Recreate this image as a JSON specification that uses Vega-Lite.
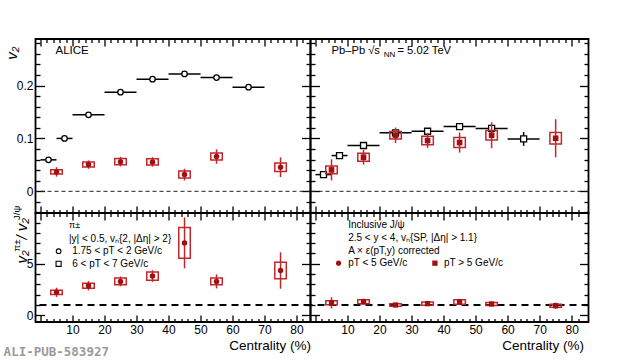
{
  "$schema": "https://vega.github.io/schema/vega-lite/v6.json",
  "background": "white",
  "padding": {"left": 3.5, "top": 36, "right": 0, "bottom": 0},
  "columns": 2,
  "spacing": 0,
  "bounds": "flush",
  "align": "each",
  "title": {"text": "ALI-PUB-583927", "orient": "bottom", "anchor": "start", "font": "DejaVu Sans Mono", "fontSize": 12.5, "fontWeight": "bold", "color": "#9a9a9a", "dy": -10},
  "config": {
    "font": "Liberation Sans",
    "view": {"stroke": "black", "strokeWidth": 1.8},
    "axis": {"domain": false, "grid": false, "tickColor": "black", "tickWidth": 1.3, "labelColor": "black", "labelFont": "Liberation Sans", "labelFontSize": 12, "titleFont": "Liberation Sans", "titleFontSize": 13.5, "titleFontWeight": "normal", "titleColor": "black", "labelOverlap": false, "labelFlush": false},
    "text": {"font": "Liberation Sans", "color": "black"}
  },
  "datasets": {
    "pi_lo": [
      {"c0": 0, "c1": 5, "cent": 2.5, "v": 0.0595},
      {"c0": 5, "c1": 10, "cent": 7.5, "v": 0.100},
      {"c0": 10, "c1": 20, "cent": 15, "v": 0.1447},
      {"c0": 20, "c1": 30, "cent": 25, "v": 0.1875},
      {"c0": 30, "c1": 40, "cent": 35, "v": 0.212},
      {"c0": 40, "c1": 50, "cent": 45, "v": 0.222},
      {"c0": 50, "c1": 60, "cent": 55, "v": 0.215},
      {"c0": 60, "c1": 70, "cent": 65, "v": 0.197}
    ],
    "pi_hi": [
      {"c0": 0, "c1": 5, "cent": 2.5, "v": 0.0316, "elo": 0.0296, "ehi": 0.0336},
      {"c0": 5, "c1": 10, "cent": 7.5, "v": 0.0676, "elo": 0.0656, "ehi": 0.0696},
      {"c0": 10, "c1": 20, "cent": 15, "v": 0.0866, "elo": 0.0846, "ehi": 0.0886},
      {"c0": 20, "c1": 30, "cent": 25, "v": 0.1106, "elo": 0.1086, "ehi": 0.1126},
      {"c0": 30, "c1": 40, "cent": 35, "v": 0.1136, "elo": 0.1116, "ehi": 0.1156},
      {"c0": 40, "c1": 50, "cent": 45, "v": 0.1225, "elo": 0.1205, "ehi": 0.1245},
      {"c0": 50, "c1": 60, "cent": 55, "v": 0.119, "elo": 0.117, "ehi": 0.121},
      {"c0": 60, "c1": 70, "cent": 65, "v": 0.099, "elo": 0.086, "ehi": 0.112}
    ],
    "jpsi_lo": [
      {"cent": 5, "v": 0.0367, "elo": 0.0277, "ehi": 0.0457, "slo": 0.0327, "shi": 0.0407},
      {"cent": 15, "v": 0.0505, "elo": 0.0425, "ehi": 0.0585, "slo": 0.0458, "shi": 0.0552},
      {"cent": 25, "v": 0.056, "elo": 0.047, "ehi": 0.065, "slo": 0.050, "shi": 0.062},
      {"cent": 35, "v": 0.0556, "elo": 0.0466, "ehi": 0.0646, "slo": 0.0496, "shi": 0.0616},
      {"cent": 45, "v": 0.0316, "elo": 0.0206, "ehi": 0.0426, "slo": 0.025, "shi": 0.0382},
      {"cent": 55, "v": 0.0657, "elo": 0.0521, "ehi": 0.0793, "slo": 0.0591, "shi": 0.0723},
      {"cent": 75, "v": 0.0455, "elo": 0.0269, "ehi": 0.0641, "slo": 0.0375, "shi": 0.0535}
    ],
    "jpsi_hi": [
      {"cent": 5, "v": 0.0405, "elo": 0.0205, "ehi": 0.0605, "slo": 0.0332, "shi": 0.0478},
      {"cent": 15, "v": 0.0644, "elo": 0.0504, "ehi": 0.0784, "slo": 0.0569, "shi": 0.0719},
      {"cent": 25, "v": 0.106, "elo": 0.0915, "ehi": 0.1205, "slo": 0.099, "shi": 0.113},
      {"cent": 35, "v": 0.096, "elo": 0.082, "ehi": 0.110, "slo": 0.088, "shi": 0.104},
      {"cent": 45, "v": 0.0922, "elo": 0.0732, "ehi": 0.1112, "slo": 0.0827, "shi": 0.1017},
      {"cent": 55, "v": 0.106, "elo": 0.0814, "ehi": 0.1306, "slo": 0.0972, "shi": 0.1148},
      {"cent": 75, "v": 0.1003, "elo": 0.0643, "ehi": 0.1363, "slo": 0.0893, "shi": 0.1113}
    ],
    "ratio_lo": [
      {"cent": 5, "v": 2.23, "elo": 1.78, "ehi": 2.68, "slo": 2.03, "shi": 2.43},
      {"cent": 15, "v": 2.87, "elo": 2.42, "ehi": 3.32, "slo": 2.62, "shi": 3.12},
      {"cent": 25, "v": 3.29, "elo": 2.81, "ehi": 3.77, "slo": 2.96, "shi": 3.62},
      {"cent": 35, "v": 3.81, "elo": 3.25, "ehi": 4.37, "slo": 3.41, "shi": 4.21},
      {"cent": 45, "v": 7.03, "elo": 4.56, "ehi": 9.5, "slo": 5.53, "shi": 8.53},
      {"cent": 55, "v": 3.29, "elo": 2.61, "ehi": 3.97, "slo": 2.97, "shi": 3.61},
      {"cent": 75, "v": 4.35, "elo": 2.58, "ehi": 6.12, "slo": 3.55, "shi": 5.15}
    ],
    "ratio_hi": [
      {"cent": 5, "v": 1.22, "elo": 0.67, "ehi": 1.77, "slo": 1.02, "shi": 1.42},
      {"cent": 15, "v": 1.32, "elo": 1.02, "ehi": 1.62, "slo": 1.12, "shi": 1.52},
      {"cent": 25, "v": 1.0, "elo": 0.8, "ehi": 1.2, "slo": 0.88, "shi": 1.12},
      {"cent": 35, "v": 1.13, "elo": 0.93, "ehi": 1.33, "slo": 0.98, "shi": 1.28},
      {"cent": 45, "v": 1.3, "elo": 1.0, "ehi": 1.6, "slo": 1.08, "shi": 1.52},
      {"cent": 55, "v": 1.1, "elo": 0.9, "ehi": 1.3, "slo": 0.95, "shi": 1.25},
      {"cent": 75, "v": 0.93, "elo": 0.63, "ehi": 1.23, "slo": 0.78, "shi": 1.08}
    ]
  },
  "concat": [
    {
      "width": 275, "height": 174,
      "resolve": {"axis": {"x": "independent", "y": "independent"}},
      "layer": [
        {"data": {"values": [{}]}, "mark": {"type": "rule", "strokeDash": [4, 3], "color": "#222", "strokeWidth": 1},
         "encoding": {"y": {"datum": 0, "type": "quantitative", "axis": null, "scale": {"domain": [-0.041, 0.288], "nice": false, "zero": false}}}},
        {"data": {"name": "pi_lo"}, "mark": {"type": "rule", "color": "black", "strokeWidth": 1.5},
         "encoding": {"x": {"field": "c0", "type": "quantitative", "axis": null, "scale": {"domain": [0, 82.8], "nice": false, "zero": false}}, "x2": {"field": "c1"},
                      "y": {"field": "v", "type": "quantitative", "axis": null, "scale": {"domain": [-0.041, 0.288], "nice": false, "zero": false}}}},
        {"data": {"name": "pi_lo"}, "mark": {"type": "point", "shape": "circle", "filled": true, "fill": "white", "stroke": "black", "strokeWidth": 1.3, "size": 30, "opacity": 1},
         "encoding": {
           "x": {"field": "cent", "type": "quantitative", "scale": {"domain": [0, 82.8], "nice": false, "zero": false},
                 "axis": {"orient": "bottom", "values": [0,2,4,6,8,10,12,14,16,18,20,22,24,26,28,30,32,34,36,38,40,42,44,46,48,50,52,54,56,58,60,62,64,66,68,70,72,74,76,78,80,82], "labels": false, "title": null,
                          "tickSize": {"condition": {"test": "datum.value % 10 == 0", "value": -7}, "value": -3.5}}},
           "y": {"field": "v", "type": "quantitative", "scale": {"domain": [-0.041, 0.288], "nice": false, "zero": false},
                 "axis": {"orient": "left", "values": [-0.04,-0.02,0,0.02,0.04,0.06,0.08,0.1,0.12,0.14,0.16,0.18,0.2,0.22,0.24,0.26,0.28],
                          "labelExpr": "abs(datum.value*10 - round(datum.value*10)) < 0.001 ? (datum.value == 0 ? '0' : format(datum.value, '.1f')) : ''",
                          "labelPadding": 11.5, "title": "v₂", "titleFontStyle": "italic", "titleFontSize": 15, "titleX": -19, "titleY": 7, "titleAlign": "right", "titleBaseline": "alphabetic",
                          "tickSize": {"condition": {"test": "abs(datum.value*10 - round(datum.value*10)) < 0.001", "value": -9}, "value": -4.5}}}}},
        {"data": {"name": "jpsi_lo"}, "mark": {"type": "bar", "width": 11.5, "filled": false, "color": "#c0282d", "strokeWidth": 1.5},
         "encoding": {
           "x": {"field": "cent", "type": "quantitative", "scale": {"domain": [0, 82.8], "nice": false, "zero": false},
                 "axis": {"orient": "top", "values": [0,2,4,6,8,10,12,14,16,18,20,22,24,26,28,30,32,34,36,38,40,42,44,46,48,50,52,54,56,58,60,62,64,66,68,70,72,74,76,78,80,82], "labels": false, "title": null,
                          "tickSize": {"condition": {"test": "datum.value % 10 == 0", "value": -7}, "value": -3.5}}},
           "y": {"field": "slo", "type": "quantitative", "scale": {"domain": [-0.041, 0.288], "nice": false, "zero": false},
                 "axis": {"orient": "right", "values": [-0.04,-0.02,0,0.02,0.04,0.06,0.08,0.1,0.12,0.14,0.16,0.18,0.2,0.22,0.24,0.26,0.28], "labels": false, "title": null,
                          "tickSize": {"condition": {"test": "abs(datum.value*10 - round(datum.value*10)) < 0.001", "value": -9}, "value": -4.5}}},
           "y2": {"field": "shi"}}},
        {"data": {"name": "jpsi_lo"}, "mark": {"type": "rule", "color": "#c0282d", "strokeWidth": 1.5},
         "encoding": {"x": {"field": "cent", "type": "quantitative", "axis": null}, "y": {"field": "elo", "type": "quantitative", "axis": null}, "y2": {"field": "ehi"}}},
        {"data": {"name": "jpsi_lo"}, "mark": {"type": "point", "shape": "circle", "filled": true, "color": "#a30f0f", "size": 30, "opacity": 1},
         "encoding": {"x": {"field": "cent", "type": "quantitative", "axis": null}, "y": {"field": "v", "type": "quantitative", "axis": null}}},
        {"data": {"values": [{}]}, "mark": {"type": "text", "text": "ALICE", "align": "left", "baseline": "middle", "fontSize": 11.5},
         "encoding": {"x": {"datum": 4.7, "type": "quantitative", "axis": null}, "y": {"datum": 0.2655, "type": "quantitative", "axis": null}}}
      ]
    },
    {
      "width": 278, "height": 174,
      "resolve": {"axis": {"x": "independent", "y": "independent"}},
      "layer": [
        {"data": {"values": [{}]}, "mark": {"type": "rule", "strokeDash": [4, 3], "color": "#222", "strokeWidth": 1},
         "encoding": {"y": {"datum": 0, "type": "quantitative", "axis": null, "scale": {"domain": [-0.041, 0.288], "nice": false, "zero": false}}}},
        {"data": {"name": "pi_hi"}, "mark": {"type": "rule", "color": "black", "strokeWidth": 1.5},
         "encoding": {"x": {"field": "c0", "type": "quantitative", "axis": null, "scale": {"domain": [0, 83.7], "nice": false, "zero": false}}, "x2": {"field": "c1"},
                      "y": {"field": "v", "type": "quantitative", "axis": null, "scale": {"domain": [-0.041, 0.288], "nice": false, "zero": false}}}},
        {"data": {"name": "pi_hi"}, "mark": {"type": "rule", "color": "black", "strokeWidth": 1.5},
         "encoding": {"x": {"field": "cent", "type": "quantitative", "axis": null}, "y": {"field": "elo", "type": "quantitative", "axis": null}, "y2": {"field": "ehi"}}},
        {"data": {"name": "pi_hi"}, "mark": {"type": "point", "shape": "square", "filled": true, "fill": "white", "stroke": "black", "strokeWidth": 1.3, "size": 36, "opacity": 1},
         "encoding": {
           "x": {"field": "cent", "type": "quantitative", "scale": {"domain": [0, 83.7], "nice": false, "zero": false},
                 "axis": {"orient": "bottom", "values": [0,2,4,6,8,10,12,14,16,18,20,22,24,26,28,30,32,34,36,38,40,42,44,46,48,50,52,54,56,58,60,62,64,66,68,70,72,74,76,78,80,82], "labels": false, "title": null,
                          "tickSize": {"condition": {"test": "datum.value % 10 == 0", "value": -7}, "value": -3.5}}},
           "y": {"field": "v", "type": "quantitative", "scale": {"domain": [-0.041, 0.288], "nice": false, "zero": false},
                 "axis": {"orient": "left", "values": [-0.04,-0.02,0,0.02,0.04,0.06,0.08,0.1,0.12,0.14,0.16,0.18,0.2,0.22,0.24,0.26,0.28], "labels": false, "title": null,
                          "tickSize": {"condition": {"test": "abs(datum.value*10 - round(datum.value*10)) < 0.001", "value": -9}, "value": -4.5}}}}},
        {"data": {"name": "jpsi_hi"}, "mark": {"type": "bar", "width": 11.5, "filled": false, "color": "#c0282d", "strokeWidth": 1.5},
         "encoding": {
           "x": {"field": "cent", "type": "quantitative", "scale": {"domain": [0, 83.7], "nice": false, "zero": false},
                 "axis": {"orient": "top", "values": [0,2,4,6,8,10,12,14,16,18,20,22,24,26,28,30,32,34,36,38,40,42,44,46,48,50,52,54,56,58,60,62,64,66,68,70,72,74,76,78,80,82], "labels": false, "title": null,
                          "tickSize": {"condition": {"test": "datum.value % 10 == 0", "value": -7}, "value": -3.5}}},
           "y": {"field": "slo", "type": "quantitative", "scale": {"domain": [-0.041, 0.288], "nice": false, "zero": false},
                 "axis": {"orient": "right", "values": [-0.04,-0.02,0,0.02,0.04,0.06,0.08,0.1,0.12,0.14,0.16,0.18,0.2,0.22,0.24,0.26,0.28], "labels": false, "title": null,
                          "tickSize": {"condition": {"test": "abs(datum.value*10 - round(datum.value*10)) < 0.001", "value": -9}, "value": -4.5}}},
           "y2": {"field": "shi"}}},
        {"data": {"name": "jpsi_hi"}, "mark": {"type": "rule", "color": "#c0282d", "strokeWidth": 1.5},
         "encoding": {"x": {"field": "cent", "type": "quantitative", "axis": null}, "y": {"field": "elo", "type": "quantitative", "axis": null}, "y2": {"field": "ehi"}}},
        {"data": {"name": "jpsi_hi"}, "mark": {"type": "point", "shape": "square", "filled": true, "color": "#a30f0f", "size": 32, "opacity": 1},
         "encoding": {"x": {"field": "cent", "type": "quantitative", "axis": null}, "y": {"field": "v", "type": "quantitative", "axis": null}}},
        {"data": {"values": [{}]}, "mark": {"type": "text", "text": "Pb–Pb √s", "align": "left", "baseline": "middle", "fontSize": 11.2},
         "encoding": {"x": {"datum": 5.0, "type": "quantitative", "axis": null}, "y": {"datum": 0.2655, "type": "quantitative", "axis": null}}},
        {"data": {"values": [{}]}, "mark": {"type": "text", "text": "NN", "align": "left", "baseline": "middle", "fontSize": 8},
         "encoding": {"x": {"datum": 21.3, "type": "quantitative", "axis": null}, "y": {"datum": 0.258, "type": "quantitative", "axis": null}}},
        {"data": {"values": [{}]}, "mark": {"type": "text", "text": "= 5.02 TeV", "align": "left", "baseline": "middle", "fontSize": 11.2},
         "encoding": {"x": {"datum": 25.6, "type": "quantitative", "axis": null}, "y": {"datum": 0.2655, "type": "quantitative", "axis": null}}}
      ]
    },
    {
      "width": 275, "height": 109,
      "resolve": {"axis": {"x": "independent", "y": "independent"}},
      "layer": [
        {"data": {"values": [{}]}, "mark": {"type": "rule", "strokeDash": [7, 5], "color": "black", "strokeWidth": 2},
         "encoding": {"y": {"datum": 1, "type": "quantitative", "axis": null, "scale": {"domain": [-0.65, 9.93], "nice": false, "zero": false}}}},
        {"data": {"name": "ratio_lo"}, "mark": {"type": "bar", "width": 11.5, "filled": false, "color": "#c0282d", "strokeWidth": 1.5},
         "encoding": {
           "x": {"field": "cent", "type": "quantitative", "scale": {"domain": [0, 82.8], "nice": false, "zero": false},
                 "axis": {"orient": "top", "values": [0,2,4,6,8,10,12,14,16,18,20,22,24,26,28,30,32,34,36,38,40,42,44,46,48,50,52,54,56,58,60,62,64,66,68,70,72,74,76,78,80,82], "labels": false, "title": null,
                          "tickSize": {"condition": {"test": "datum.value % 10 == 0", "value": -7}, "value": -3.5}}},
           "y": {"field": "slo", "type": "quantitative", "scale": {"domain": [-0.65, 9.93], "nice": false, "zero": false},
                 "axis": {"orient": "right", "values": [0,1,2,3,4,5,6,7,8,9], "labels": false, "title": null,
                          "tickSize": {"condition": {"test": "datum.value % 5 == 0", "value": -9}, "value": -4.5}}},
           "y2": {"field": "shi"}}},
        {"data": {"name": "ratio_lo"}, "mark": {"type": "rule", "color": "#c0282d", "strokeWidth": 1.5},
         "encoding": {"x": {"field": "cent", "type": "quantitative", "axis": null}, "y": {"field": "elo", "type": "quantitative", "axis": null}, "y2": {"field": "ehi"}}},
        {"data": {"name": "ratio_lo"}, "mark": {"type": "point", "shape": "circle", "filled": true, "color": "#a30f0f", "size": 30, "opacity": 1},
         "encoding": {
           "x": {"field": "cent", "type": "quantitative", "scale": {"domain": [0, 82.8], "nice": false, "zero": false},
                 "axis": {"orient": "bottom", "values": [0,2,4,6,8,10,12,14,16,18,20,22,24,26,28,30,32,34,36,38,40,42,44,46,48,50,52,54,56,58,60,62,64,66,68,70,72,74,76,78,80,82],
                          "labelExpr": "datum.value % 10 == 0 && datum.value > 0 ? datum.label : ''", "labelPadding": 9.5,
                          "title": "Centrality (%)", "titleAnchor": "end", "titleBaseline": "alphabetic", "titleY": 27,
                          "tickSize": {"condition": {"test": "datum.value % 10 == 0", "value": -7}, "value": -3.5}}},
           "y": {"field": "v", "type": "quantitative", "scale": {"domain": [-0.65, 9.93], "nice": false, "zero": false},
                 "axis": {"orient": "left", "values": [0,1,2,3,4,5,6,7,8,9],
                          "labelExpr": "datum.value % 5 == 0 ? datum.label : ''", "labelPadding": 11.5, "title": null,
                          "tickSize": {"condition": {"test": "datum.value % 5 == 0", "value": -9}, "value": -4.5}}}}},
        {"data": {"values": [{}]}, "mark": {"type": "text", "text": "v₂", "angle": 270, "align": "left", "baseline": "alphabetic", "fontSize": 15, "fontStyle": "italic"},
         "encoding": {"x": {"datum": -4.1, "type": "quantitative", "axis": null}, "y": {"datum": 5.03, "type": "quantitative", "axis": null}}},
        {"data": {"values": [{}]}, "mark": {"type": "text", "text": "π±", "angle": 270, "align": "left", "baseline": "alphabetic", "fontSize": 9.5},
         "encoding": {"x": {"datum": -6.4, "type": "quantitative", "axis": null}, "y": {"datum": 6.2, "type": "quantitative", "axis": null}}},
        {"data": {"values": [{}]}, "mark": {"type": "text", "text": "/ v₂", "angle": 270, "align": "left", "baseline": "alphabetic", "fontSize": 15, "fontStyle": "italic"},
         "encoding": {"x": {"datum": -4.1, "type": "quantitative", "axis": null}, "y": {"datum": 7.35, "type": "quantitative", "axis": null}}},
        {"data": {"values": [{}]}, "mark": {"type": "text", "text": "J/ψ", "angle": 270, "align": "left", "baseline": "alphabetic", "fontSize": 9.5},
         "encoding": {"x": {"datum": -6.4, "type": "quantitative", "axis": null}, "y": {"datum": 9.25, "type": "quantitative", "axis": null}}},
        {"data": {"values": [{}]}, "mark": {"type": "text", "text": "π±", "align": "left", "baseline": "middle", "fontSize": 9},
         "encoding": {"x": {"datum": 8.9, "type": "quantitative", "axis": null}, "y": {"datum": 8.8, "type": "quantitative", "axis": null}}},
        {"data": {"values": [{}]}, "mark": {"type": "text", "text": "|y| < 0.5,   vₙ{2, |Δη| > 2}", "align": "left", "baseline": "middle", "fontSize": 10},
         "encoding": {"x": {"datum": 8.9, "type": "quantitative", "axis": null}, "y": {"datum": 7.42, "type": "quantitative", "axis": null}}},
        {"data": {"values": [{}]}, "mark": {"type": "point", "shape": "circle", "filled": false, "color": "black", "strokeWidth": 1.1, "size": 22, "opacity": 1},
         "encoding": {"x": {"datum": 5.66, "type": "quantitative", "axis": null}, "y": {"datum": 6.22, "type": "quantitative", "axis": null}}},
        {"data": {"values": [{}]}, "mark": {"type": "text", "text": "1.75 < pT < 2 GeV/c", "align": "left", "baseline": "middle", "fontSize": 10},
         "encoding": {"x": {"datum": 9.9, "type": "quantitative", "axis": null}, "y": {"datum": 6.22, "type": "quantitative", "axis": null}}},
        {"data": {"values": [{}]}, "mark": {"type": "point", "shape": "square", "filled": false, "color": "black", "strokeWidth": 1.1, "size": 26, "opacity": 1},
         "encoding": {"x": {"datum": 5.66, "type": "quantitative", "axis": null}, "y": {"datum": 5.0, "type": "quantitative", "axis": null}}},
        {"data": {"values": [{}]}, "mark": {"type": "text", "text": "6 < pT < 7 GeV/c", "align": "left", "baseline": "middle", "fontSize": 10},
         "encoding": {"x": {"datum": 9.9, "type": "quantitative", "axis": null}, "y": {"datum": 5.0, "type": "quantitative", "axis": null}}}
      ]
    },
    {
      "width": 278, "height": 109,
      "resolve": {"axis": {"x": "independent", "y": "independent"}},
      "layer": [
        {"data": {"values": [{}]}, "mark": {"type": "rule", "strokeDash": [7, 5], "color": "black", "strokeWidth": 2},
         "encoding": {"y": {"datum": 1, "type": "quantitative", "axis": null, "scale": {"domain": [-0.65, 9.93], "nice": false, "zero": false}}}},
        {"data": {"name": "ratio_hi"}, "mark": {"type": "bar", "width": 11.5, "filled": false, "color": "#c0282d", "strokeWidth": 1.5},
         "encoding": {
           "x": {"field": "cent", "type": "quantitative", "scale": {"domain": [0, 83.7], "nice": false, "zero": false},
                 "axis": {"orient": "top", "values": [0,2,4,6,8,10,12,14,16,18,20,22,24,26,28,30,32,34,36,38,40,42,44,46,48,50,52,54,56,58,60,62,64,66,68,70,72,74,76,78,80,82], "labels": false, "title": null,
                          "tickSize": {"condition": {"test": "datum.value % 10 == 0", "value": -7}, "value": -3.5}}},
           "y": {"field": "slo", "type": "quantitative", "scale": {"domain": [-0.65, 9.93], "nice": false, "zero": false},
                 "axis": {"orient": "right", "values": [0,1,2,3,4,5,6,7,8,9], "labels": false, "title": null,
                          "tickSize": {"condition": {"test": "datum.value % 5 == 0", "value": -9}, "value": -4.5}}},
           "y2": {"field": "shi"}}},
        {"data": {"name": "ratio_hi"}, "mark": {"type": "rule", "color": "#c0282d", "strokeWidth": 1.5},
         "encoding": {"x": {"field": "cent", "type": "quantitative", "axis": null}, "y": {"field": "elo", "type": "quantitative", "axis": null}, "y2": {"field": "ehi"}}},
        {"data": {"name": "ratio_hi"}, "mark": {"type": "point", "shape": "square", "filled": true, "color": "#a30f0f", "size": 28, "opacity": 1},
         "encoding": {
           "x": {"field": "cent", "type": "quantitative", "scale": {"domain": [0, 83.7], "nice": false, "zero": false},
                 "axis": {"orient": "bottom", "values": [0,2,4,6,8,10,12,14,16,18,20,22,24,26,28,30,32,34,36,38,40,42,44,46,48,50,52,54,56,58,60,62,64,66,68,70,72,74,76,78,80,82],
                          "labelExpr": "datum.value % 10 == 0 && datum.value > 0 ? datum.label : ''", "labelPadding": 9.5,
                          "title": "Centrality (%)", "titleAnchor": "end", "titleBaseline": "alphabetic", "titleY": 27, "titleX": 273,
                          "tickSize": {"condition": {"test": "datum.value % 10 == 0", "value": -7}, "value": -3.5}}},
           "y": {"field": "v", "type": "quantitative", "scale": {"domain": [-0.65, 9.93], "nice": false, "zero": false},
                 "axis": {"orient": "left", "values": [0,1,2,3,4,5,6,7,8,9], "labels": false, "title": null,
                          "tickSize": {"condition": {"test": "datum.value % 5 == 0", "value": -9}, "value": -4.5}}}}},
        {"data": {"values": [{}]}, "mark": {"type": "text", "text": "Inclusive J/ψ", "align": "left", "baseline": "middle", "fontSize": 10},
         "encoding": {"x": {"datum": 10.2, "type": "quantitative", "axis": null}, "y": {"datum": 8.8, "type": "quantitative", "axis": null}}},
        {"data": {"values": [{}]}, "mark": {"type": "text", "text": "2.5 < y < 4,   vₙ{SP, |Δη| > 1.1}", "align": "left", "baseline": "middle", "fontSize": 10},
         "encoding": {"x": {"datum": 10.2, "type": "quantitative", "axis": null}, "y": {"datum": 7.48, "type": "quantitative", "axis": null}}},
        {"data": {"values": [{}]}, "mark": {"type": "text", "text": "A × ε(pT,y) corrected", "align": "left", "baseline": "middle", "fontSize": 10},
         "encoding": {"x": {"datum": 10.2, "type": "quantitative", "axis": null}, "y": {"datum": 6.29, "type": "quantitative", "axis": null}}},
        {"data": {"values": [{}]}, "mark": {"type": "point", "shape": "circle", "filled": true, "color": "#a30f0f", "size": 26, "opacity": 1},
         "encoding": {"x": {"datum": 7.2, "type": "quantitative", "axis": null}, "y": {"datum": 5.06, "type": "quantitative", "axis": null}}},
        {"data": {"values": [{}]}, "mark": {"type": "text", "text": "pT < 5 GeV/c", "align": "left", "baseline": "middle", "fontSize": 10},
         "encoding": {"x": {"datum": 10.2, "type": "quantitative", "axis": null}, "y": {"datum": 5.06, "type": "quantitative", "axis": null}}},
        {"data": {"values": [{}]}, "mark": {"type": "point", "shape": "square", "filled": true, "color": "#a30f0f", "size": 28, "opacity": 1},
         "encoding": {"x": {"datum": 37.3, "type": "quantitative", "axis": null}, "y": {"datum": 5.06, "type": "quantitative", "axis": null}}},
        {"data": {"values": [{}]}, "mark": {"type": "text", "text": "pT > 5 GeV/c", "align": "left", "baseline": "middle", "fontSize": 10},
         "encoding": {"x": {"datum": 40.1, "type": "quantitative", "axis": null}, "y": {"datum": 5.06, "type": "quantitative", "axis": null}}}
      ]
    }
  ]
}
